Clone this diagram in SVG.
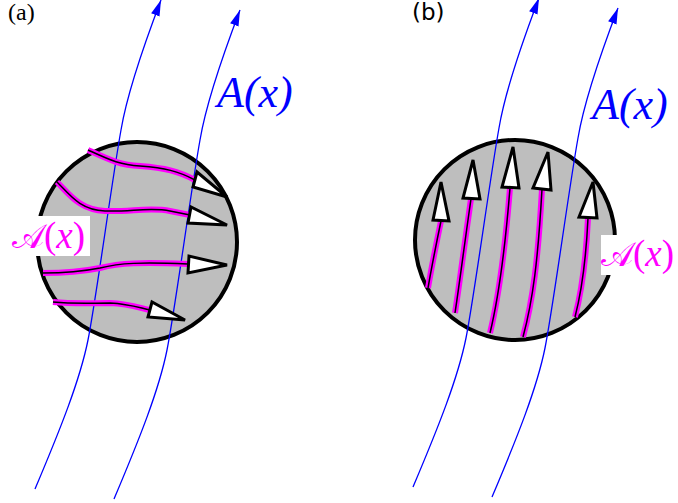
<svg xmlns="http://www.w3.org/2000/svg" xmlns:xlink="http://www.w3.org/1999/xlink" width="678" height="503" viewBox="0 0 678 503">
<style>
.disk{fill:#bebebe;stroke:#000;stroke-width:4}
.field{fill:none;stroke:#0000ff;stroke-width:1.3}
.mag{fill:none;stroke:#ff00ff;stroke-width:6;stroke-linecap:butt}
.core{fill:none;stroke:#000;stroke-width:1.5}
.head{fill:#fff;stroke:#000;stroke-width:3;stroke-linejoin:miter}
.bigA{font-family:"Liberation Serif",serif;font-style:italic;font-size:44px;fill:#0000ff}
.calA{font-family:"DejaVu Serif","DejaVu Sans",serif;font-size:34px;fill:#ff00ff}
.par{font-family:"Liberation Serif",serif;font-size:37px}
</style>
<defs>
<marker id="arr" markerUnits="userSpaceOnUse" markerWidth="20" markerHeight="14" refX="16" refY="7" orient="auto">
<path d="M0,2.5 L16,7 L0,11.5 Z" fill="#0000ff"/>
</marker>
<g id="fieldlines">
<path class="field" marker-end="url(#arr)" d="M35,489 C60,430 80,380 88,340 C96,300 112,180 121,130 C126,100 142,50 161,0"/>
<path class="field" marker-end="url(#arr)" d="M114,499 C139,440 159,390 167,350 C175,310 191,190 200,140 C205,110 221,60 240,10"/>
</g>
</defs>

<g id="panel-a">
<text x="8" y="20" font-family="Liberation Serif, serif" font-size="24" fill="#000">(a)</text>
<circle id="disk-a" class="disk" cx="137" cy="242" r="100"/>
<g id="field-a"><use xlink:href="#fieldlines"/></g>
<g id="arrows-a">
<path class="mag" d="M88,150 C110,160 120,165 140,166 C165,168 178,171 195,180"/>
<path class="core" d="M88,150 C110,160 120,165 140,166 C165,168 178,171 195,180"/>
<polygon class="head" points="197,172 193,187 227,197"/>
<path class="mag" d="M57,182 C70,195 80,210 105,211 C130,212 150,207 170,211 L190,215"/>
<path class="core" d="M57,182 C70,195 80,210 105,211 C130,212 150,207 170,211 L190,215"/>
<polygon class="head" points="191,207 188,223 227,225"/>
<path class="mag" d="M43,273 C65,273 80,272 100,268 C120,263 140,262 188,264"/>
<path class="core" d="M43,273 C65,273 80,272 100,268 C120,263 140,262 188,264"/>
<polygon class="head" points="189,256 188,273 227,265"/>
<path class="mag" d="M53,302 C75,304 90,303 110,303 C130,304 140,308 150,310"/>
<path class="core" d="M53,302 C75,304 90,303 110,303 C130,304 140,308 150,310"/>
<polygon class="head" points="152,302 148,317 185,320"/>
</g>
<g id="label-A-a"><text class="bigA" x="217" y="107">A(x)</text></g>
<g id="label-cal-a">
<rect x="12" y="216" width="78" height="40" fill="#fff"/>
<text class="calA" x="12" y="248">𝒜<tspan class="par">(</tspan><tspan class="par" font-style="italic" font-size="32">x</tspan><tspan class="par">)</tspan></text>
</g>
</g>

<g id="panel-b">
<text x="412" y="20" font-family="DejaVu Sans, sans-serif" font-size="23" fill="#000">(b)</text>
<circle id="disk-b" class="disk" cx="515" cy="240" r="100"/>
<g id="field-b" transform="translate(378,-2)"><use xlink:href="#fieldlines"/></g>
<g id="arrows-b">
<path class="mag" d="M428,288 C432,265 436,245 441,221"/>
<path class="core" d="M428,288 C432,265 436,245 441,221"/>
<polygon class="head" points="441,182 433,220 449,221"/>
<path class="mag" d="M455,313 C460,280 465,240 471,199"/>
<path class="core" d="M455,313 C460,280 465,240 471,199"/>
<polygon class="head" points="473,160 463,198 480,199"/>
<path class="mag" d="M490,333 C498,300 505,250 510,188"/>
<path class="core" d="M490,333 C498,300 505,250 510,188"/>
<polygon class="head" points="513,147 502,187 519,188"/>
<path class="mag" d="M523,337 C533,300 538,260 542,189"/>
<path class="core" d="M523,337 C533,300 538,260 542,189"/>
<polygon class="head" points="548,152 533,188 551,190"/>
<path class="mag" d="M575,317 C582,290 586,260 588,218"/>
<path class="core" d="M575,317 C582,290 586,260 588,218"/>
<polygon class="head" points="593,182 579,217 597,218"/>
</g>
<g id="label-A-b"><text class="bigA" x="592" y="119">A(x)</text></g>
<g id="label-cal-b">
<rect x="601" y="235" width="77" height="40" fill="#fff"/>
<text class="calA" x="601" y="266">𝒜<tspan class="par">(</tspan><tspan class="par" font-style="italic" font-size="32">x</tspan><tspan class="par">)</tspan></text>
</g>
</g>
</svg>
